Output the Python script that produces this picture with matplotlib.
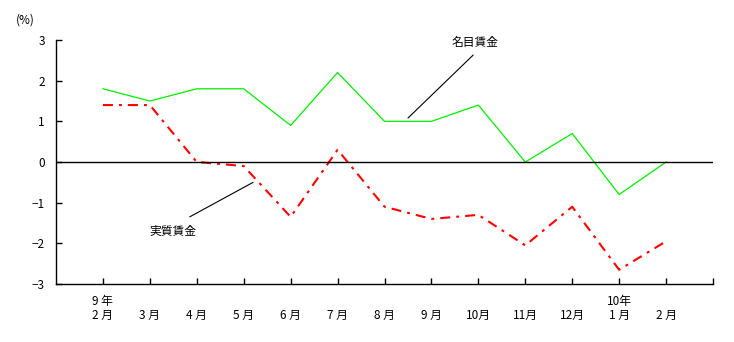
import numpy as np
import matplotlib
matplotlib.use("Agg")
import matplotlib.pyplot as plt

plt.rcParams['font.family'] = ['Noto Sans CJK JP', 'DejaVu Sans']

# data (%), 9年2月 .. 10年2月
months = ["9 年\n2 月", "\n3 月", "\n4 月", "\n5 月", "\n6 月", "\n7 月", "\n8 月",
          "\n9 月", "\n10月", "\n11月", "\n12月", "10年\n1 月", "\n2 月"]
nominal = [1.8, 1.5, 1.8, 1.8, 0.9, 2.2, 1.0, 1.0, 1.4, 0.0, 0.7, -0.8, 0.0]
real = [1.4, 1.4, 0.0, -0.1, -1.35, 0.3, -1.1, -1.4, -1.3, -2.05, -1.1, -2.65, -1.95]

x = np.arange(len(months))

fig = plt.figure(figsize=(7.34, 3.42), dpi=100)
ax = fig.add_axes([56/734, 1 - 284/342, (713 - 56)/734, (284 - 40)/342])

ax.plot(x, nominal, color="#00ee00", lw=0.9)
ax.plot(x, real, color="#ff0000", lw=1.5, dashes=[4.8, 2.9, 1.4, 2.9])
ax.axhline(0, color="black", lw=1)

ax.set_xlim(-1, 13)
ax.set_ylim(-3, 3)
ax.set_yticks(range(-3, 4))
ax.set_xticks(range(0, 14))
ax.set_xticklabels(months + [""], fontsize=8, linespacing=1.1)
ax.tick_params(axis="both", direction="in", length=4, width=1, labelsize=8.5)
ax.tick_params(axis="y", pad=8)
ax.tick_params(axis="x", pad=8)
for s in ["top", "right"]:
    ax.spines[s].set_visible(False)
for s in ["left", "bottom"]:
    ax.spines[s].set_linewidth(1)

fig.text(25/734, 1 - 20/342, "(%)", fontsize=8.5, ha="center", va="center")

# labels with leader lines
ax.annotate("名目賃金", xy=(6.5, 1.08), xytext=(7.94, 2.95), fontsize=8.5,
            ha="center", va="center",
            arrowprops=dict(arrowstyle="-", color="black", lw=0.8,
                            shrinkA=0, shrinkB=0, relpos=(0.45, -0.5)))
ax.annotate("実質賃金", xy=(3.2, -0.5), xytext=(1.5, -1.7), fontsize=8.5,
            ha="center", va="center",
            arrowprops=dict(arrowstyle="-", color="black", lw=0.8,
                            shrinkA=0, shrinkB=0, relpos=(0.85, 1.6)))

fig.savefig("out.png", dpi=100)
